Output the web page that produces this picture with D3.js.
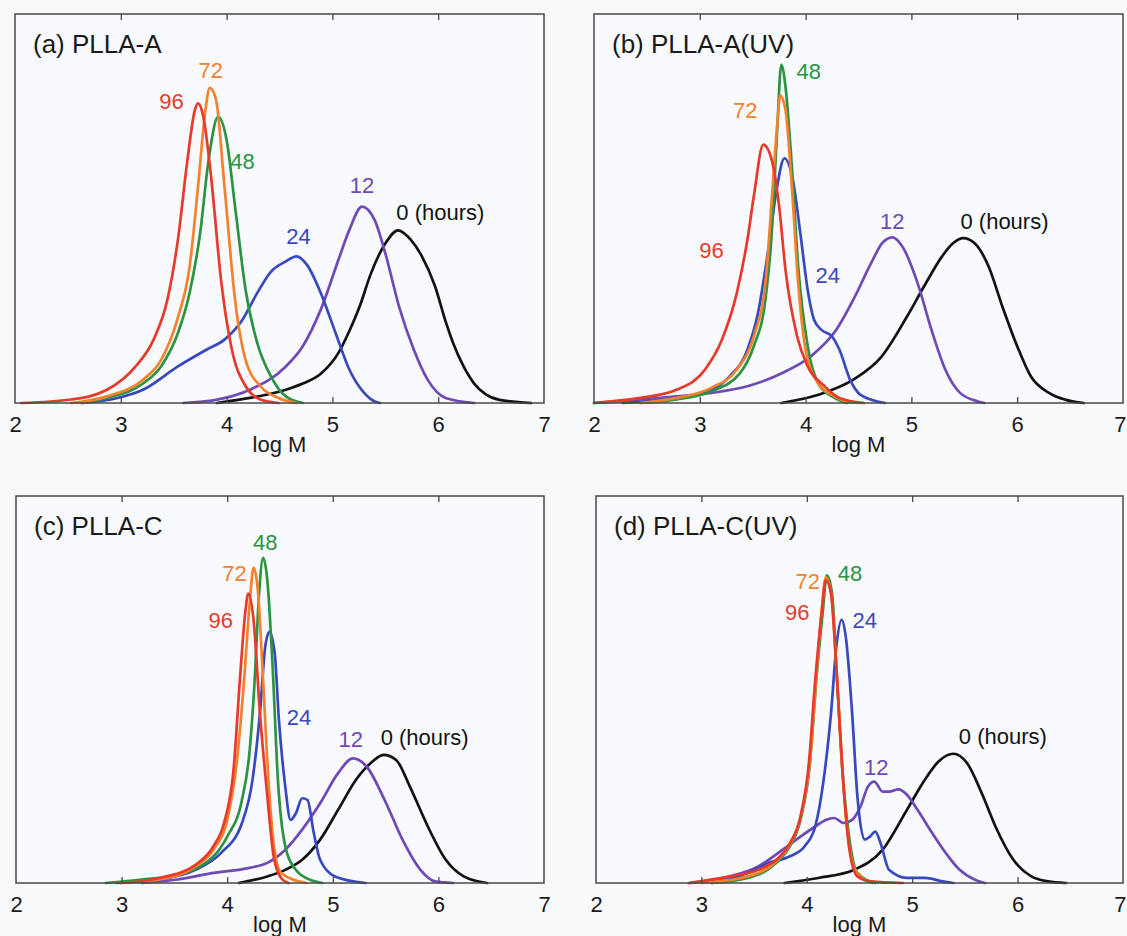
<!DOCTYPE html>
<html>
<head>
<meta charset="utf-8">
<script src="https://cdn.jsdelivr.net/npm/d3@7"></script>
<style>
  html, body { margin: 0; padding: 0; background: #f8f9fb; }
  svg { display: block; }
  text { font-family: "Liberation Sans", Arial, Helvetica, sans-serif; }
</style>
</head>
<body>
<svg id="chart" width="1127" height="936"></svg>
<script>
// ---------- data: [log M, normalised height] ----------
const hours = ["0", "12", "24", "48", "72", "96"];
const xTicks = [2, 3, 4, 5, 6, 7];
const panelTitles = ["(a) PLLA-A", "(b) PLLA-A(UV)", "(c) PLLA-C", "(d) PLLA-C(UV)"];

const A0  = [[3.91,0],[4.22,0.013],[4.56,0.034],[4.72,0.05],[4.89,0.075],[5.06,0.13],[5.16,0.185],[5.26,0.25],[5.36,0.33],[5.50,0.41],[5.62,0.444],[5.74,0.42],[5.84,0.38],[5.97,0.30],[6.07,0.21],[6.14,0.155],[6.24,0.094],[6.34,0.05],[6.45,0.022],[6.58,0.008],[6.88,0]];
const A12 = [[3.59,0],[3.90,0.008],[4.22,0.034],[4.56,0.094],[4.72,0.146],[4.89,0.24],[5.06,0.37],[5.16,0.445],[5.28,0.505],[5.40,0.47],[5.50,0.385],[5.63,0.248],[5.77,0.137],[5.90,0.06],[6.07,0.013],[6.34,0]];
const A24 = [[2.63,0],[2.97,0.013],[3.21,0.034],[3.54,0.094],[3.81,0.137],[3.98,0.163],[4.15,0.214],[4.29,0.283],[4.42,0.338],[4.56,0.364],[4.66,0.377],[4.76,0.355],[4.89,0.283],[5.03,0.18],[5.16,0.086],[5.30,0.026],[5.40,0.004],[5.45,0]];
const A48 = [[2.63,0],[2.87,0.013],[3.21,0.05],[3.38,0.094],[3.54,0.18],[3.65,0.283],[3.75,0.437],[3.83,0.625],[3.92,0.736],[4.00,0.676],[4.08,0.505],[4.18,0.29],[4.29,0.154],[4.42,0.068],[4.56,0.017],[4.72,0]];
const A72 = [[2.53,0],[2.87,0.017],[3.21,0.06],[3.38,0.11],[3.54,0.22],[3.65,0.35],[3.73,0.556],[3.80,0.753],[3.84,0.81],[3.90,0.78],[3.98,0.556],[4.08,0.265],[4.18,0.11],[4.32,0.043],[4.49,0.013],[4.66,0]];
const A96 = [[2.06,0],[2.53,0.009],[2.87,0.034],[3.14,0.094],[3.31,0.163],[3.44,0.265],[3.54,0.42],[3.63,0.625],[3.70,0.753],[3.73,0.77],[3.78,0.736],[3.85,0.59],[3.95,0.31],[4.05,0.137],[4.18,0.043],[4.32,0.009],[4.49,0]];

const B0  = [[3.77,0],[4.12,0.021],[4.45,0.06],[4.72,0.12],[4.96,0.223],[5.12,0.30],[5.29,0.377],[5.39,0.41],[5.49,0.424],[5.60,0.41],[5.73,0.351],[5.86,0.248],[6.00,0.146],[6.13,0.068],[6.30,0.026],[6.46,0.008],[6.63,0]];
const B12 = [[2.00,0],[2.44,0.009],[2.78,0.017],[3.11,0.026],[3.45,0.043],[3.78,0.077],[4.05,0.12],[4.29,0.188],[4.45,0.265],[4.62,0.36],[4.72,0.41],[4.82,0.426],[4.92,0.40],[5.06,0.307],[5.19,0.188],[5.32,0.086],[5.46,0.026],[5.63,0.004],[5.69,0]];
const B24 = [[2.27,0],[2.78,0.013],[3.11,0.034],[3.28,0.068],[3.45,0.137],[3.55,0.231],[3.65,0.40],[3.72,0.538],[3.80,0.629],[3.88,0.573],[3.95,0.437],[4.02,0.29],[4.08,0.214],[4.15,0.188],[4.25,0.171],[4.32,0.137],[4.42,0.06],[4.52,0.021],[4.75,0]];
const B48 = [[2.44,0],[2.78,0.009],[3.11,0.03],[3.38,0.077],[3.51,0.146],[3.62,0.265],[3.68,0.437],[3.73,0.694],[3.77,0.869],[3.81,0.813],[3.87,0.608],[3.93,0.351],[4.02,0.146],[4.12,0.05],[4.25,0.017],[4.39,0]];
const B72 = [[2.44,0],[2.78,0.013],[3.11,0.039],[3.35,0.086],[3.51,0.171],[3.62,0.308],[3.68,0.522],[3.73,0.71],[3.76,0.79],[3.81,0.753],[3.87,0.556],[3.93,0.308],[4.00,0.137],[4.12,0.05],[4.25,0.021],[4.39,0.004],[4.52,0]];
const B96 = [[2.00,0],[2.44,0.013],[2.78,0.034],[3.05,0.086],[3.21,0.163],[3.35,0.283],[3.45,0.42],[3.51,0.53],[3.60,0.664],[3.68,0.625],[3.75,0.505],[3.81,0.342],[3.92,0.171],[4.02,0.094],[4.18,0.043],[4.32,0.013],[4.55,0]];

const C0  = [[4.11,0],[4.38,0.017],[4.55,0.034],[4.71,0.06],[4.88,0.112],[5.05,0.189],[5.22,0.267],[5.36,0.31],[5.48,0.331],[5.60,0.318],[5.73,0.249],[5.90,0.146],[6.07,0.06],[6.24,0.017],[6.46,0]];
const C12 = [[3.19,0],[3.53,0.009],[3.87,0.026],[4.21,0.039],[4.38,0.052],[4.55,0.086],[4.71,0.138],[4.88,0.206],[5.05,0.284],[5.19,0.322],[5.32,0.301],[5.49,0.215],[5.66,0.112],[5.83,0.034],[5.97,0.004],[6.14,0]];
const C24 = [[2.95,0],[3.36,0.009],[3.70,0.034],[3.94,0.077],[4.14,0.155],[4.24,0.267],[4.31,0.439],[4.36,0.61],[4.40,0.649],[4.45,0.593],[4.49,0.421],[4.55,0.249],[4.60,0.163],[4.65,0.18],[4.71,0.219],[4.76,0.215],[4.82,0.129],[4.88,0.06],[5.02,0.017],[5.31,0]];
const C48 = [[2.85,0],[3.19,0.009],[3.53,0.022],[3.87,0.069],[4.00,0.12],[4.14,0.215],[4.21,0.335],[4.26,0.524],[4.30,0.739],[4.34,0.84],[4.38,0.782],[4.43,0.559],[4.48,0.267],[4.55,0.095],[4.65,0.034],[4.78,0.009],[4.90,0]];
const C72 = [[2.99,0],[3.36,0.009],[3.70,0.043],[3.87,0.086],[4.00,0.163],[4.09,0.31],[4.16,0.524],[4.21,0.713],[4.25,0.815],[4.29,0.757],[4.34,0.524],[4.39,0.267],[4.44,0.103],[4.51,0.026],[4.75,0]];
const C96 = [[2.99,0],[3.36,0.013],[3.70,0.047],[3.87,0.095],[3.97,0.155],[4.06,0.292],[4.12,0.524],[4.17,0.696],[4.20,0.748],[4.25,0.679],[4.31,0.439],[4.38,0.224],[4.44,0.069],[4.51,0.013],[4.58,0]];

const D0  = [[3.79,0],[4.11,0.013],[4.45,0.034],[4.72,0.086],[4.95,0.189],[5.12,0.267],[5.25,0.314],[5.39,0.334],[5.52,0.31],[5.66,0.232],[5.79,0.146],[5.96,0.06],[6.13,0.017],[6.29,0.004],[6.46,0]];
const D12 = [[2.90,0],[3.27,0.017],[3.54,0.043],[3.77,0.086],[3.94,0.12],[4.08,0.146],[4.18,0.163],[4.26,0.168],[4.35,0.155],[4.43,0.163],[4.51,0.198],[4.58,0.249],[4.64,0.262],[4.72,0.236],[4.78,0.236],[4.87,0.242],[4.95,0.228],[5.05,0.189],[5.19,0.129],[5.32,0.077],[5.45,0.034],[5.59,0.009],[5.69,0]];
const D24 = [[3.10,0],[3.44,0.026],[3.64,0.052],[3.84,0.069],[3.98,0.095],[4.08,0.146],[4.16,0.267],[4.23,0.439],[4.28,0.61],[4.33,0.68],[4.37,0.636],[4.43,0.439],[4.48,0.224],[4.55,0.112],[4.60,0.12],[4.65,0.133],[4.70,0.103],[4.78,0.034],[4.95,0.013],[5.12,0.013],[5.29,0.004],[5.39,0]];
const D48 = [[3.10,0],[3.44,0.013],[3.71,0.052],[3.84,0.095],[3.94,0.163],[4.03,0.31],[4.09,0.524],[4.15,0.696],[4.19,0.795],[4.24,0.748],[4.28,0.559],[4.34,0.284],[4.41,0.103],[4.48,0.026],[4.65,0]];
const D72 = [[3.00,0],[3.44,0.017],[3.71,0.056],[3.84,0.10],[3.94,0.168],[4.03,0.315],[4.09,0.53],[4.14,0.70],[4.18,0.79],[4.23,0.75],[4.28,0.56],[4.34,0.28],[4.40,0.10],[4.48,0.024],[4.62,0]];
const D96 = [[2.88,0],[3.27,0.017],[3.54,0.034],[3.71,0.06],[3.84,0.103],[3.94,0.172],[4.02,0.31],[4.08,0.524],[4.14,0.696],[4.18,0.782],[4.23,0.748],[4.28,0.559],[4.34,0.284],[4.40,0.095],[4.48,0.017],[4.61,0.004],[4.91,0]];

// curve labels: [text, log M, height, series index]
const labelsA = [["96",3.48,0.777,5],["72",3.85,0.856,4],["48",4.15,0.621,3],["24",4.68,0.43,2],["12",5.28,0.561,1],["0 (hours)",6.02,0.492,0]];
const labelsB = [["96",3.11,0.394,5],["72",3.43,0.753,4],["48",4.03,0.852,3],["24",4.21,0.33,2],["12",4.82,0.467,1],["0 (hours)",5.88,0.467,0]];
const labelsC = [["96",3.94,0.68,5],["72",4.07,0.80,4],["48",4.36,0.881,3],["24",4.68,0.43,2],["12",5.17,0.371,1],["0 (hours)",5.87,0.378,0]];
const labelsD = [["96",3.91,0.70,5],["72",4.01,0.78,4],["48",4.41,0.80,3],["24",4.55,0.68,2],["12",4.66,0.30,1],["0 (hours)",5.86,0.38,0]];

// ---------- styling / layout ----------
const colors = ["#121212", "#6f48b9", "#3848bf", "#2a9444", "#f5812c", "#e8392b"];
const boxes = [
  {l: 15, r: 544, t: 14, b: 403},
  {l: 594, r: 1123, t: 14, b: 403},
  {l: 16, r: 544, t: 496, b: 883},
  {l: 596, r: 1123, t: 496, b: 883}
];
const panels = [
  {title: panelTitles[0], series: [A0, A12, A24, A48, A72, A96], labels: labelsA},
  {title: panelTitles[1], series: [B0, B12, B24, B48, B72, B96], labels: labelsB},
  {title: panelTitles[2], series: [C0, C12, C24, C48, C72, C96], labels: labelsC},
  {title: panelTitles[3], series: [D0, D12, D24, D48, D72, D96], labels: labelsD}
];

const svg = d3.select("#chart");
const W = +svg.attr("width");

panels.forEach((p, i) => {
  const bx = boxes[i];
  const x = d3.scaleLinear().domain([2, 7]).range([bx.l, bx.r]);
  const y = d3.scaleLinear().domain([0, 1]).range([bx.b, bx.t]);
  const g = svg.append("g");

  g.append("rect")
    .attr("x", bx.l).attr("y", bx.t)
    .attr("width", bx.r - bx.l).attr("height", bx.b - bx.t)
    .attr("fill", "#f9fafd");

  const line = d3.line()
    .x(d => x(d[0])).y(d => y(d[1]))
    .curve(d3.curveMonotoneX);

  p.series.forEach((s, k) => {
    g.append("path")
      .datum(s)
      .attr("d", line)
      .attr("fill", "none")
      .attr("stroke", colors[k])
      .attr("stroke-width", 2.7)
      .attr("stroke-linejoin", "round")
      .attr("stroke-linecap", "round");
  });

  // frame
  g.append("rect")
    .attr("x", bx.l).attr("y", bx.t)
    .attr("width", bx.r - bx.l).attr("height", bx.b - bx.t)
    .attr("fill", "none").attr("stroke", "#4a4a4a").attr("stroke-width", 1.5);

  // bottom axis (inward ticks)
  const axB = g.append("g")
    .attr("transform", `translate(0,${bx.b})`)
    .call(d3.axisBottom(x).tickValues(xTicks).tickSize(-6).tickPadding(13).tickFormat(d3.format("d")));
  axB.select(".domain").remove();
  axB.selectAll("line").attr("stroke", "#4a4a4a").attr("stroke-width", 1.3);
  axB.selectAll("text").attr("font-size", 22).attr("fill", "#1a1a1a")
    .attr("font-family", "Liberation Sans, Arial, sans-serif");
  axB.selectAll(".tick").filter(d => d === 2 || d === 7).select("line").remove();
  // keep the last label inside the page
  axB.selectAll(".tick").filter(d => d === 7 && bx.r + 7 > W)
    .select("text").attr("text-anchor", "end").attr("x", W - bx.r - 1);

  // top axis (inward ticks, no labels)
  const axT = g.append("g")
    .attr("transform", `translate(0,${bx.t})`)
    .call(d3.axisTop(x).tickValues(xTicks.slice(1, -1)).tickSize(-6).tickFormat(""));
  axT.select(".domain").remove();
  axT.selectAll("line").attr("stroke", "#4a4a4a").attr("stroke-width", 1.3);

  // x axis title
  g.append("text")
    .attr("x", x(4.5)).attr("y", bx.b + 49)
    .attr("text-anchor", "middle")
    .attr("font-size", 22).attr("fill", "#1a1a1a")
    .text("log M");

  // panel title
  g.append("text")
    .attr("x", bx.l + 18).attr("y", bx.t + 39)
    .attr("font-size", 26).attr("fill", "#1a1a1a")
    .text(p.title);

  // curve labels
  p.labels.forEach(lb => {
    g.append("text")
      .attr("x", x(lb[1])).attr("y", y(lb[2]))
      .attr("text-anchor", "middle")
      .attr("dy", "0.36em")
      .attr("font-size", 22)
      .attr("fill", colors[lb[3]])
      .text(lb[0]);
  });
});
</script>
</body>
</html>
